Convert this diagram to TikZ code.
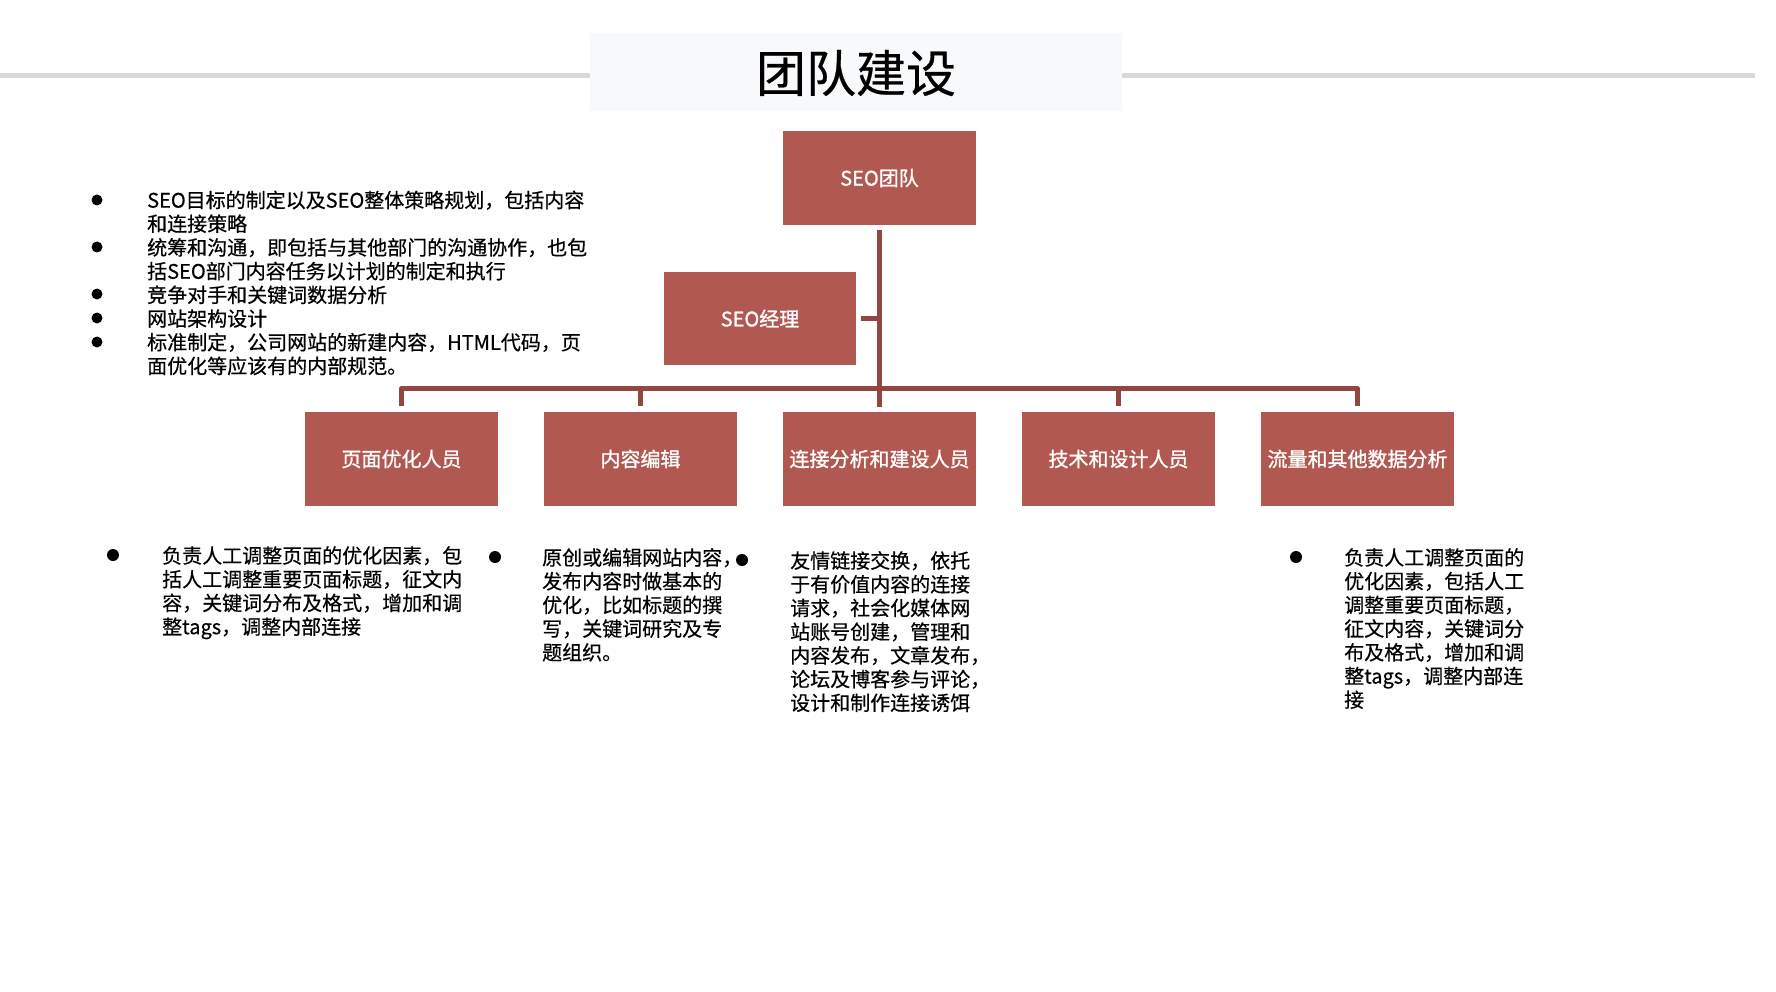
\documentclass[tikz,border=0pt]{standalone}
\usepackage{fontspec}
\setmainfont{Noto Sans CJK SC}
\newfontface\bodyface{Noto Sans CJK SC}[FakeBold=0.5]
\newfontface\boxface{Noto Sans CJK SC}[FakeBold=1.2]
\usetikzlibrary{calc}
\definecolor{boxred}{RGB}{177,88,81}
\definecolor{linered}{RGB}{145,70,66}
\definecolor{titlebg}{RGB}{248,249,250}
\definecolor{rulegray}{RGB}{217,217,217}
\tikzset{
  orgbox/.style={rectangle, fill=boxred, minimum width=193pt, minimum height=94pt, inner sep=0pt, text=white, font=\boxface\fontsize{20}{24}\selectfont},
  conn/.style={draw=linered, line width=4.5pt, line join=round},
  bodytext/.style={anchor=north west, inner sep=0pt, align=left, font=\bodyface\fontsize{20}{23.7}\selectfont},
  dot/.style={fill=black}
}
\begin{document}
\begin{tikzpicture}[x=1pt, y=-1pt]
\useasboundingbox (0,0) rectangle (1776,992);
% title band
\draw[rulegray, line width=5pt] (0,75.5) -- (1755,75.5);
\fill[titlebg] (590,33) rectangle (1122,111);
\node[inner sep=0pt, font=\bodyface\fontsize{50}{60}\selectfont] (title) at (856,73) {团队建设};

% org boxes
\node[orgbox] (team) at (879.5,178) {SEO团队};
\node[orgbox, minimum width=192pt, minimum height=93pt] (mgr) at (760,318.5) {SEO经理};
\node[orgbox] (p1) at (401.5,459) {页面优化人员};
\node[orgbox] (p2) at (640.5,459) {内容编辑};
\node[orgbox] (p3) at (879.5,459) {连接分析和建设人员};
\node[orgbox] (p4) at (1118.5,459) {技术和设计人员};
\node[orgbox] (p5) at (1357.5,459) {流量和其他数据分析};

% connectors
\draw[conn] ($(team.south)+(0,5)$) -- ($(p3.north)+(0,-5)$);
\draw[conn] ($(mgr.east)+(5,0)$) -- (mgr.east -| team.south);
\draw[conn] ($(p1.north)+(0,-5.5)$) -- ++(0,-18) -| ($(p5.north)+(0,-5.5)$);
\draw[conn] ($(p2.north)+(0,-5.5)$) -- ++(0,-18);
\draw[conn] ($(p4.north)+(0,-5.5)$) -- ++(0,-18);

% left list
\node[bodytext] (duties) at (147,190.5) {SEO目标的制定以及SEO整体策略规划，包括内容\\和连接策略\\统筹和沟通，即包括与其他部门的沟通协作，也包\\括SEO部门内容任务以计划的制定和执行\\竞争对手和关键词数据分析\\网站架构设计\\标准制定，公司网站的新建内容，HTML代码，页\\面优化等应该有的内部规范。};
\foreach \yy in {200,247,294,318,342} \fill[dot] (97,\yy) circle (5.5pt);

% bottom columns
\node[bodytext] (t1) at (162,546) {负责人工调整页面的优化因素，包\\括人工调整重要页面标题，征文内\\容，关键词分布及格式，增加和调\\整tags，调整内部连接};
\fill[dot] (113,555) circle (6pt);
\node[bodytext] (t2) at (542,548) {原创或编辑网站内容，\\发布内容时做基本的\\优化，比如标题的撰\\写，关键词研究及专\\题组织。};
\fill[dot] (495,557) circle (6pt);
\node[bodytext] (t3) at (790,551) {友情链接交换，依托\\于有价值内容的连接\\请求，社会化媒体网\\站账号创建，管理和\\内容发布，文章发布，\\论坛及博客参与评论，\\设计和制作连接诱饵};
\fill[dot] (742,560) circle (6pt);
\node[bodytext] (t4) at (1344,548) {负责人工调整页面的\\优化因素，包括人工\\调整重要页面标题，\\征文内容，关键词分\\布及格式，增加和调\\整tags，调整内部连\\接};
\fill[dot] (1296,557) circle (6pt);
\end{tikzpicture}
\end{document}
